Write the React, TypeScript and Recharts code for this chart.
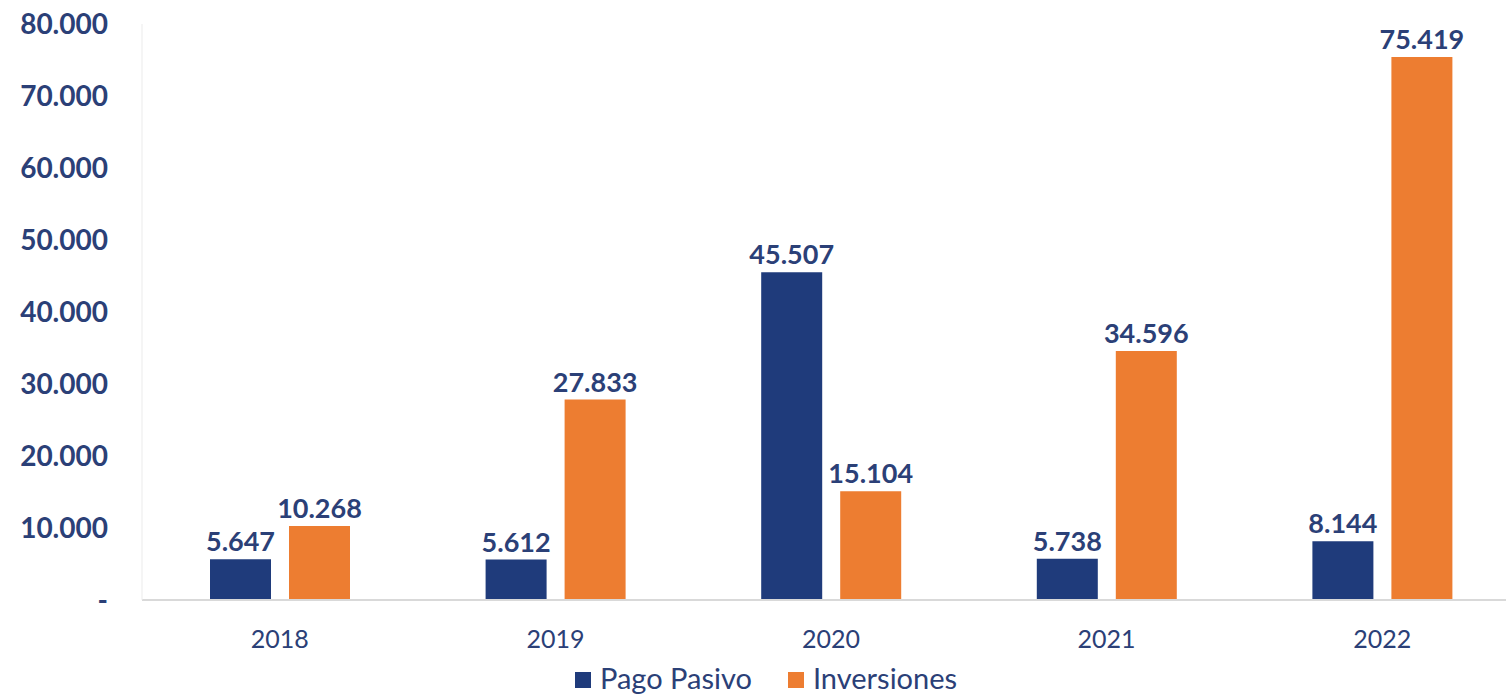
import { BarChart, Bar, XAxis, YAxis, Legend, LabelList } from 'recharts';

const years = ['2018', '2019', '2020', '2021', '2022'];
const pagoPasivo = [5647, 5612, 45507, 5738, 8144];
const inversiones = [10268, 27833, 15104, 34596, 75419];
const yTicks = [0, 10000, 20000, 30000, 40000, 50000, 60000, 70000, 80000];

const NAVY = '#2b4077';
const BLUE = '#1f3b7b';
const ORANGE = '#ed7d31';
const FONT = 'Lato, "Open Sans", sans-serif';

const data = years.map((year, i) => ({
  year,
  pago: pagoPasivo[i],
  inv: inversiones[i],
}));

// thousands with a dot, like the Spanish source
const fmt = (v: number) => (v === 0 ? '-' : String(Math.round(v)).replace(/\B(?=(\d{3})+(?!\d))/g, '.'));

function LegendBox() {
  const items = [
    { label: 'Pago Pasivo', color: BLUE },
    { label: 'Inversiones', color: ORANGE },
  ];
  return (
    <div style={{ display: 'flex', alignItems: 'center', gap: 36, fontFamily: FONT, fontSize: 29, color: NAVY }}>
      {items.map((it) => (
        <div key={it.label} style={{ display: 'flex', alignItems: 'center', gap: 9 }}>
          <span style={{ width: 16, height: 16, background: it.color, display: 'inline-block', marginTop: 4 }} />
          <span>{it.label}</span>
        </div>
      ))}
    </div>
  );
}

export default function App() {
  return (
    <div style={{ position: 'absolute', left: 0, top: 0, width: 1506, height: 698, overflow: 'hidden', background: '#fff' }}>
      <BarChart
        width={1530}
        height={698}
        data={data}
        margin={{ top: 24, right: 10, left: 0, bottom: 20 }}
        barGap={18}
      >
        <XAxis
          dataKey="year"
          height={40}
          tickLine={false}
          tickSize={0}
          tickMargin={30}
          axisLine={{ stroke: '#d9d9d9', strokeWidth: 2 }}
          tick={{ fill: NAVY, fontSize: 25, fontFamily: FONT }}
        />
        <YAxis
          width={142}
          domain={[0, 80000]}
          ticks={yTicks}
          tickFormatter={fmt}
          tickLine={false}
          tickSize={0}
          tickMargin={34}
          axisLine={{ stroke: '#ebebeb' }}
          tick={{ fill: NAVY, fontSize: 28, fontWeight: 700, fontFamily: FONT }}
        />
        <Legend
          height={40}
          content={() => <LegendBox />}
          wrapperStyle={{ left: 575, top: 660, width: 440, height: 38 }}
        />
        <Bar dataKey="pago" name="Pago Pasivo" fill={BLUE} barSize={61} isAnimationActive={false}>
          <LabelList
            dataKey="pago"
            position="top"
            offset={8}
            formatter={(v: number) => fmt(v)}
            style={{ fill: NAVY, fontSize: 27, fontWeight: 700, fontFamily: FONT }}
          />
        </Bar>
        <Bar dataKey="inv" name="Inversiones" fill={ORANGE} barSize={61} isAnimationActive={false}>
          <LabelList
            dataKey="inv"
            position="top"
            offset={8}
            formatter={(v: number) => fmt(v)}
            style={{ fill: NAVY, fontSize: 27, fontWeight: 700, fontFamily: FONT }}
          />
        </Bar>
      </BarChart>
    </div>
  );
}
